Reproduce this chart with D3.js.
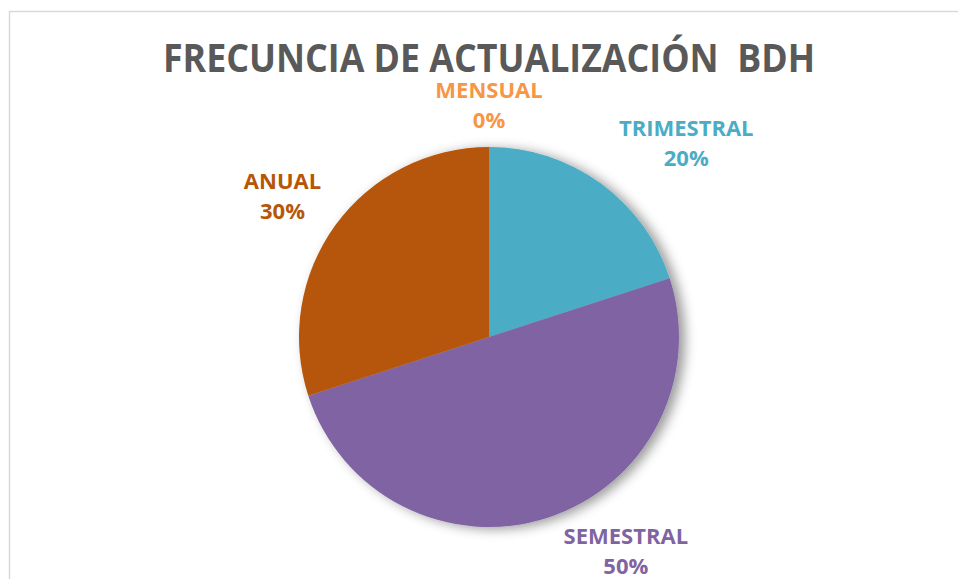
<!DOCTYPE html>
<html>
<head>
<meta charset="utf-8">
<script src="https://cdn.jsdelivr.net/npm/d3@7"></script>
<style>
  body { margin: 0; background: #fff; }
  svg { display: block; font-family: "Open Sans", "Noto Sans", sans-serif; }
</style>
</head>
<body>
<svg id="chart" width="958" height="579"></svg>
<script>
// datos del grafico
const categorias = ["MENSUAL", "TRIMESTRAL", "SEMESTRAL", "ANUAL"];
const valores = [0, 20, 50, 30];
const colores = ["#F79646", "#4BACC6", "#8064A2", "#B65708"];
const titulo = "FRECUNCIA DE ACTUALIZACIÓN  BDH";

// posicion de etiquetas (angulo en grados, radio) como en Excel "mejor ajuste"
const etiquetaAngulo = [0, 45.4, 147.4, 304.3];
const etiquetaRadio = [232, 277, 254, 250];

const svg = d3.select("#chart");
const width = +svg.attr("width");
const height = +svg.attr("height");
const cx = 489, cy = 337, radius = 190;

// borde del area de grafico
svg.append("rect")
  .attr("x", 9.5).attr("y", 11.5)
  .attr("width", width + 20).attr("height", height + 20)
  .attr("fill", "#fff")
  .attr("stroke", "#d9d9d9")
  .attr("stroke-width", 1.5);

// sombra
const defs = svg.append("defs");
const filtro = defs.append("filter").attr("id", "sombra")
  .attr("x", "-20%").attr("y", "-20%").attr("width", "140%").attr("height", "140%");
filtro.append("feDropShadow")
  .attr("dx", 6).attr("dy", 2)
  .attr("stdDeviation", 6)
  .attr("flood-color", "#000")
  .attr("flood-opacity", 0.4);

svg.append("text")
  .attr("x", 489).attr("y", 72)
  .attr("text-anchor", "middle")
  .attr("font-size", 40)
  .attr("font-weight", "bold")
  .attr("fill", "#595959")
  .attr("textLength", 652)
  .attr("lengthAdjust", "spacingAndGlyphs")
  .style("white-space", "pre")
  .text(titulo);

const pie = d3.pie().sort(null).value(d => d);
const arcs = pie(valores);
const arc = d3.arc().innerRadius(0).outerRadius(radius);

const g = svg.append("g").attr("transform", `translate(${cx},${cy})`);

g.append("g")
  .attr("filter", "url(#sombra)")
  .selectAll("path")
  .data(arcs)
  .enter().append("path")
  .attr("d", arc)
  .attr("fill", (d, i) => colores[i]);

// etiquetas
const lab = g.append("g").selectAll("text")
  .data(arcs)
  .enter().append("text")
  .attr("text-anchor", "middle")
  .attr("font-size", 22)
  .attr("font-weight", "bold")
  .attr("fill", (d, i) => colores[i])
  .attr("transform", (d, i) => {
    const a = etiquetaAngulo[i] * Math.PI / 180;
    const x = Math.sin(a) * etiquetaRadio[i];
    const y = -Math.cos(a) * etiquetaRadio[i];
    return `translate(${x},${y})`;
  });

lab.append("tspan")
  .attr("x", 0).attr("y", -7)
  .text((d, i) => categorias[i]);

lab.append("tspan")
  .attr("x", 0).attr("y", 23)
  .text((d, i) => {
    const total = d3.sum(valores);
    return Math.round(d.data / total * 100) + "%";
  });
</script>
</body>
</html>
